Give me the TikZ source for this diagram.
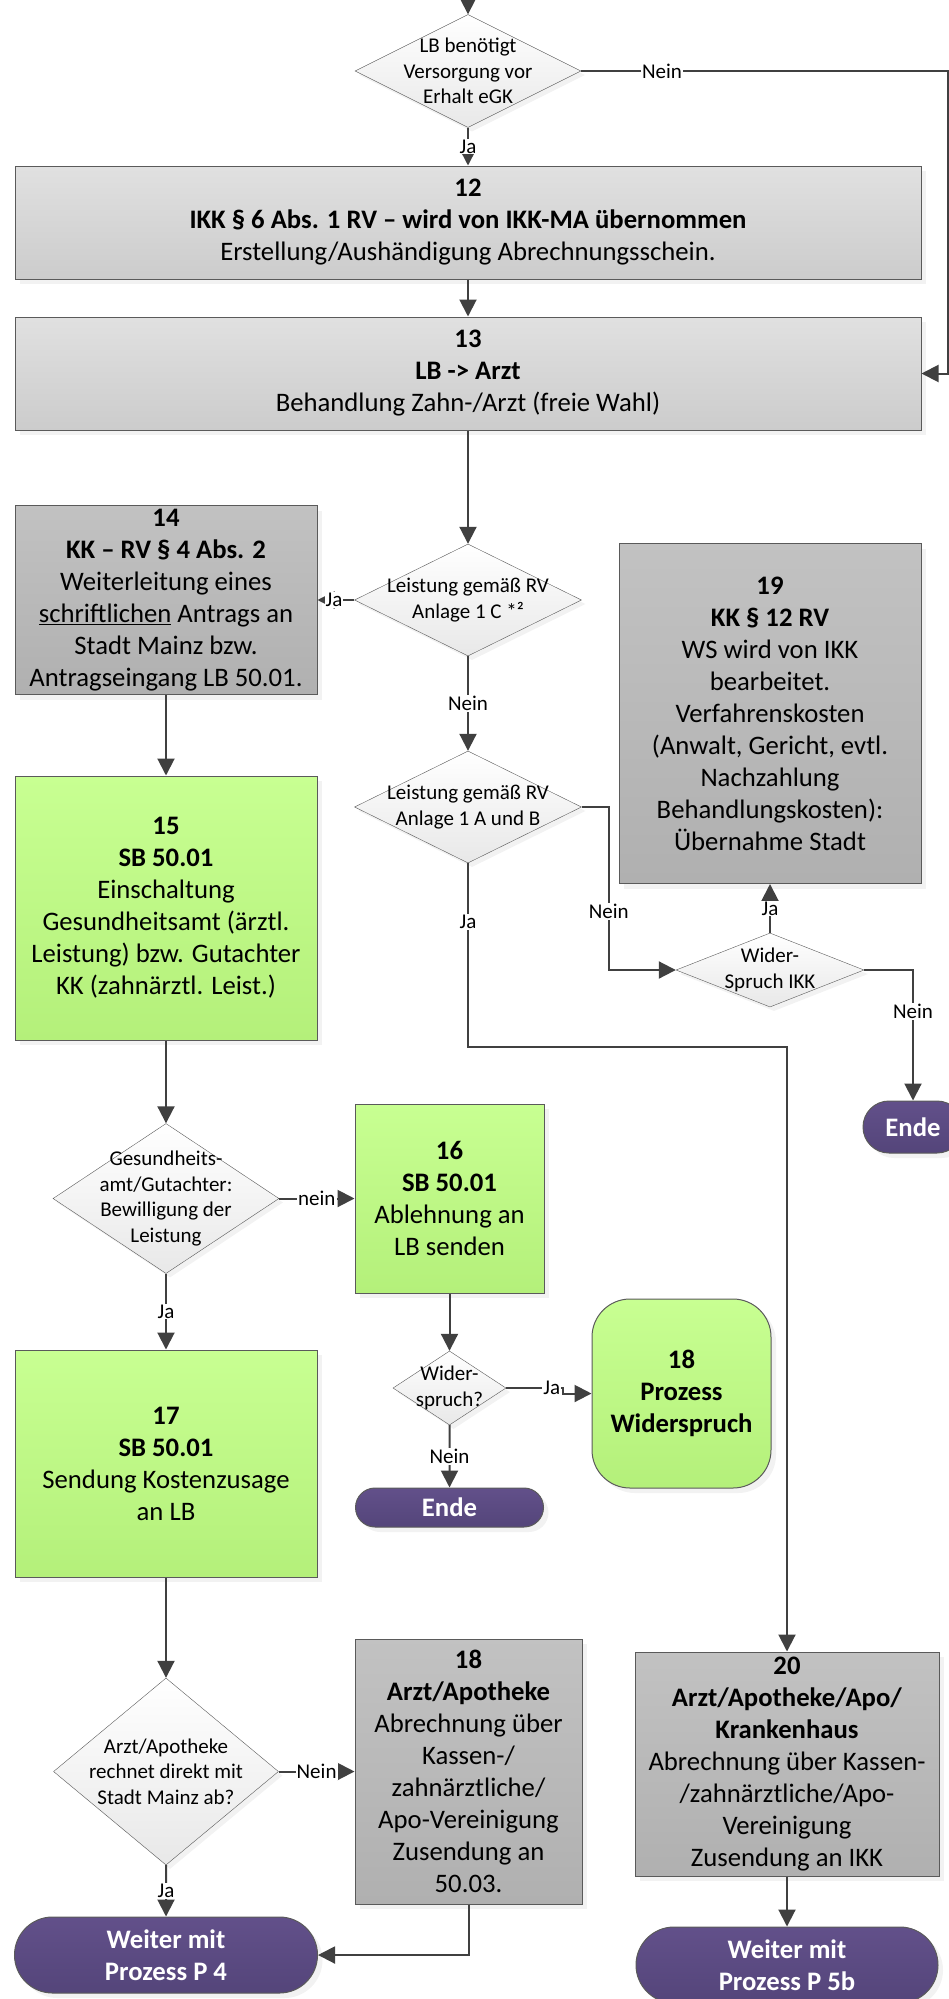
\documentclass[tikz,border=0pt]{standalone}
\usepackage{fontspec}
\setmainfont{Carlito}
\usepackage{tikz}
\usetikzlibrary{shapes,arrows,arrows.meta,shapes.geometric,shapes.misc,shadows,calc}

\definecolor{pfeil}{HTML}{404040}
\definecolor{rand}{HTML}{5A5A5A}
\definecolor{gruenoben}{HTML}{C8FF92}
\definecolor{gruenunten}{HTML}{B4F07A}
\definecolor{lilaoben}{HTML}{62508A}
\definecolor{lilaunten}{HTML}{54457A}

\begin{document}
\begin{tikzpicture}[
    x=1pt, y=-1pt,
    box/.style={draw=rand, line width=1pt, rectangle, align=center, inner sep=0pt, font=\fontsize{26.7}{32}\selectfont, drop shadow={fill=black!10, shadow xshift=5pt, shadow yshift=-5pt}},
    hell/.style={box, top color=black!12, bottom color=black!20},
    dunkel/.style={box, top color=black!24, bottom color=black!31},
    gruen/.style={box, top color=gruenoben, bottom color=gruenunten},
    frage/.style={draw=rand, diamond, inner sep=0pt, top color=white, bottom color=black!9, drop shadow={fill=black!10, shadow xshift=4pt, shadow yshift=-4pt}},
    fragetext/.style={align=center, font=\fontsize{21}{25.5}\selectfont},
    ende/.style={draw=rand, rounded rectangle, line width=1pt, inner sep=0pt, align=center, text=white, font=\bfseries\fontsize{26.7}{32}\selectfont, top color=lilaoben, bottom color=lilaunten, drop shadow={fill=black!10, shadow xshift=5pt, shadow yshift=-5pt}},
    lbl/.style={fill=white, inner sep=1pt, font=\fontsize{21}{25.5}\selectfont},
    line/.style={draw=pfeil, line width=2pt, -{Triangle[length=17pt, width=17pt]}}
]

\useasboundingbox (0,0) rectangle (949,1999);
\clip (0,0) rectangle (949,1999);

\coordinate (start) at (468,0);
\node[frage, minimum width=226pt, minimum height=113pt, label={[fragetext]center:{LB benötigt\\Versorgung vor\\Erhalt eGK}}] (versorgung) at (468,71) {};
\node[hell, minimum width=906pt, minimum height=113pt] (schein) at (468,222.5) {\textbf{12}\\\textbf{IKK § 6 Abs. 1 RV -- wird von IKK-MA übernommen}\\Erstellung/Aushändigung Abrechnungsschein.};
\node[hell, minimum width=906pt, minimum height=113pt] (behandlung) at (468,373.5) {\textbf{13}\\\textbf{LB -> Arzt}\\Behandlung Zahn-/Arzt (freie Wahl)};

\node[frage, minimum width=227pt, minimum height=112pt, label={[fragetext]center:{Leistung gemäß RV\\Anlage 1 C *²}}] (anlagec) at (468,600) {};
\node[dunkel, minimum width=302pt, minimum height=189pt] (antrag) at (166,600) {\textbf{14}\\\textbf{KK -- RV § 4 Abs. 2}\\Weiterleitung eines\\\underline{schriftlichen} Antrags an\\Stadt Mainz bzw.\\Antragseingang LB 50.01.};
\node[frage, minimum width=227pt, minimum height=112pt, label={[fragetext]center:{Leistung gemäß RV\\Anlage 1 A und B}}] (anlageab) at (468,807) {};
\node[dunkel, minimum width=302pt, minimum height=340pt] (kosten) at (770,713.5) {\textbf{19}\\\textbf{KK § 12 RV}\\WS wird von IKK\\bearbeitet.\\Verfahrenskosten\\(Anwalt, Gericht, evtl.\\Nachzahlung\\Behandlungskosten):\\Übernahme Stadt};
\node[frage, minimum width=188pt, minimum height=74pt, label={[fragetext]center:{Wider-\\Spruch IKK}}] (widerspruchikk) at (770,970) {};
\node[ende, minimum width=100pt, minimum height=52pt] (endeikk) at (913,1127) {Ende};

\node[gruen, minimum width=302pt, minimum height=264pt] (einschaltung) at (166,908) {\textbf{15}\\\textbf{SB 50.01}\\Einschaltung\\Gesundheitsamt (ärztl.\\Leistung) bzw. Gutachter\\KK (zahnärztl. Leist.)};
\node[frage, minimum width=226pt, minimum height=150pt, label={[fragetext]center:{Gesundheits-\\amt/Gutachter:\\Bewilligung der\\Leistung}}] (bewilligung) at (166,1198.5) {};
\node[gruen, minimum width=189pt, minimum height=189pt] (ablehnung) at (449.5,1198.5) {\textbf{16}\\\textbf{SB 50.01}\\Ablehnung an\\LB senden};
\node[frage, minimum width=113pt, minimum height=74pt, label={[fragetext]center:{Wider-\\spruch?}}] (widerspruch) at (449.5,1388) {};
\node[gruen, rounded corners=38pt, minimum width=179pt, minimum height=189pt] (prozess) at (681.5,1393.5) {\textbf{18}\\\textbf{Prozess}\\\textbf{Widerspruch}};
\node[ende, minimum width=188pt, minimum height=39pt] (endemitte) at (449.5,1507.5) {Ende};
\node[gruen, minimum width=302pt, minimum height=227pt] (kostenzusage) at (166,1463.5) {\textbf{17}\\\textbf{SB 50.01}\\Sendung Kostenzusage\\an LB};

\node[frage, minimum width=225pt, minimum height=187pt, label={[fragetext]center:{Arzt/Apotheke\\rechnet direkt mit\\Stadt Mainz ab?}}] (direkt) at (166,1771.5) {};
\node[dunkel, minimum width=227pt, minimum height=265pt] (vereinigung) at (468.5,1771.5) {\textbf{18}\\\textbf{Arzt/Apotheke}\\Abrechnung über\\Kassen-/\\zahnärztliche/\\Apo-Vereinigung\\Zusendung an\\50.03.};
\node[ende, minimum width=303pt, minimum height=76pt] (weiterpvier) at (166,1955) {Weiter mit\\Prozess P 4};
\node[dunkel, minimum width=304pt, minimum height=224pt] (apo) at (787,1764) {\textbf{20}\\\textbf{Arzt/Apotheke/Apo/}\\\textbf{Krankenhaus}\\Abrechnung über Kassen-\\/zahnärztliche/Apo-\\Vereinigung\\Zusendung an IKK};
\node[ende, minimum width=302pt, minimum height=76pt] (weiterpfuenf) at (787,1965) {Weiter mit\\Prozess P 5b};

\draw[line] (start) -- (versorgung);
\draw[line] (versorgung) -- node[lbl]{Ja} (schein);
\draw[line] (versorgung.east) -- node[lbl, pos=0.22]{Nein} ++(367,0) |- (behandlung.east);
\draw[line] (schein) -- (behandlung);
\draw[line] (behandlung) -- (anlagec);
\draw[line] (anlagec.west) -- node[lbl, pos=0.55]{Ja} (antrag.east);
\draw[line] (anlagec) -- node[lbl]{Nein} (anlageab);
\draw[line] (anlageab.east) -- ++(27,0) |- node[lbl, pos=0.32]{Nein} (widerspruchikk.west);
\draw[line] (widerspruchikk) -- node[lbl]{Ja} (kosten);
\draw[line] (widerspruchikk.east) -| node[lbl, pos=0.66]{Nein} (endeikk.north);
\draw[line] (anlageab.south) -- node[lbl, pos=0.32]{Ja} ++(0,184) -| (apo.north);

\draw[line] (antrag) -- (einschaltung);
\draw[line] (einschaltung) -- (bewilligung);
\draw[line] (bewilligung.east) -- node[lbl]{nein} (ablehnung.west);
\draw[line] (bewilligung) -- node[lbl]{Ja} (kostenzusage);
\draw[line] (ablehnung) -- (widerspruch);
\draw[line] (widerspruch.east) -- node[lbl, pos=0.8]{Ja} ++(57,0) |- (prozess.west);
\draw[line] (widerspruch) -- node[lbl]{Nein} (endemitte);
\draw[line] (kostenzusage) -- (direkt);
\draw[line] (direkt.east) -- node[lbl]{Nein} (vereinigung.west |- direkt.east);
\draw[line] (direkt) -- node[lbl]{Ja} (weiterpvier);
\draw[line] (vereinigung.south) |- (weiterpvier.east);
\draw[line] (apo) -- (weiterpfuenf);

\end{tikzpicture}
\end{document}
